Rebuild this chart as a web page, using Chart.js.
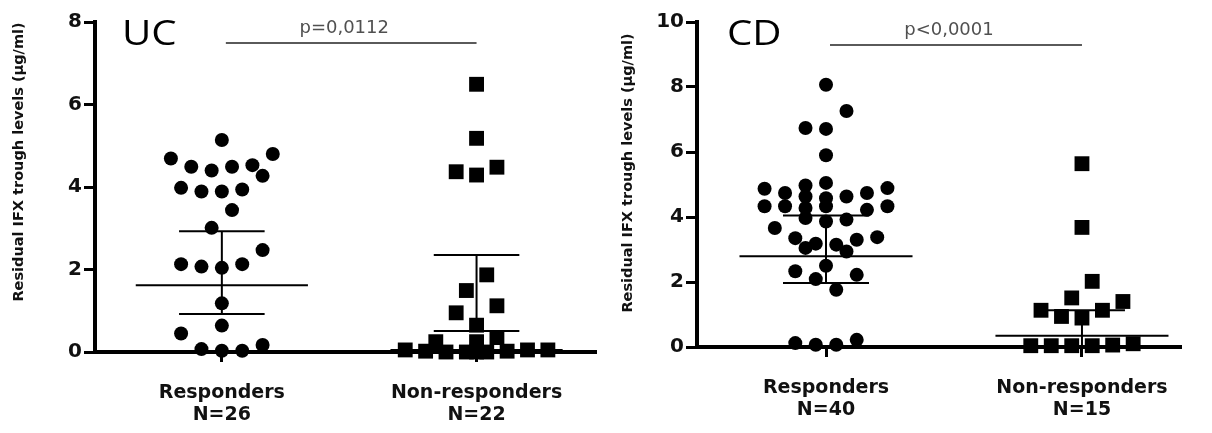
<!DOCTYPE html>
<html>
<head>
<meta charset="utf-8">
<script src="https://cdn.jsdelivr.net/npm/chart.js@4.4.1/dist/chart.umd.min.js"></script>
<style>
  html, body { margin: 0; padding: 0; background: #fff; }
  #wrap { position: relative; width: 1212px; height: 433px; }
  canvas { position: absolute; top: 0; }
  #uc { left: 0; }
  #cd { left: 606px; }
</style>
</head>
<body>
<div id="wrap">
  <canvas id="uc" width="606" height="433"></canvas>
  <canvas id="cd" width="606" height="433"></canvas>
</div>
<script>
// group names under each column
var groupNames = ['Responders', 'Non-responders'];
var ucCounts = ['N=26', 'N=22'];
var cdCounts = ['N=40', 'N=15'];
var yTitle = 'Residual IFX trough levels (\u00b5g/ml)';

// UC - residual trough levels, and the slot each dot sits in within its column
var ucResp = [5.14, 4.69, 4.80, 4.49, 4.40, 4.49, 4.53, 4.27, 3.98, 3.89, 3.89, 3.94, 3.44,
              3.01, 2.47, 2.13, 2.07, 2.04, 2.13, 1.18, 0.64, 0.45, 0.07, 0.03, 0.03, 0.17];
var ucRespSlot = [0, -5, 5, -3, -1, 1, 3, 4, -4, -2, 0, 2, 1,
                  -1, 4, -4, -2, 0, 2, 0, 0, -4, -2, 0, 2, 4];
var ucNon = [6.49, 5.18, 4.37, 4.29, 4.48, 1.87, 1.49, 1.12, 0.95, 0.65, 0.05,
             0.02, 0.25, 0.00, 0.00, 0.25, 0.00, 0.00, 0.35, 0.02, 0.05, 0.05];
var ucNonSlot = [0, 0, -2, 0, 2, 1, -1, 2, -2, 0, -7,
                 -5, -4, -3, -1, 0, 0, 1, 2, 3, 5, 7];

// CD
var cdResp = [8.07, 7.26, 6.74, 6.71, 5.90, 5.05, 4.97, 4.87, 4.89, 4.74,
              4.74, 4.63, 4.58, 4.63, 4.33, 4.33, 4.28, 4.33, 4.33, 4.22,
              3.97, 3.86, 3.92, 3.66, 3.35, 3.18, 3.05, 3.15, 2.94, 3.30,
              3.38, 2.50, 2.33, 2.09, 2.22, 1.76, 0.12, 0.07, 0.07, 0.22];
var cdRespSlot = [0, 2, -2, 0, 0, 0, -2, -6, 6, -4,
                  4, 2, 0, -2, -6, -4, -2, 0, 6, 4,
                  -2, 0, 2, -5, -3, -1, -2, 1, 2, 3,
                  5, 0, -3, -1, 3, 1, -3, -1, 1, 3];
var cdNon = [5.64, 3.68, 2.02, 1.51, 1.40, 1.13, 1.13, 0.94, 0.89, 0.04, 0.04, 0.04, 0.04, 0.06, 0.10];
var cdNonSlot = [0, 0, 1, -1, 4, -4, 2, -2, 0, -5, -3, -1, 1, 3, 5];

// centre line and error bar ends for each group [responders, non-responders]
var ucMid = [1.62, 0.05];
var ucLow = [0.92, 0.51];
var ucHigh = [2.93, 2.35];
var cdMid = [2.79, 0.35];
var cdLow = [1.97, 0.00];
var cdHigh = [4.05, 1.13];

var yTicksUC = [0, 2, 4, 6, 8];
var yTicksCD = [0, 2, 4, 6, 8, 10];

var SLOT = 0.04;      // horizontal step between dots, in x units
var MID_HALF = 0.338; // half length of the centre line
var CAP_HALF = 0.168; // half length of the error bar caps

function dots(values, slots, centre) {
  return values.map(function (v, i) { return { x: centre + slots[i] * SLOT, y: v }; });
}

function seg(x1, y1, x2, y2) {
  return {
    type: 'line',
    data: [{ x: x1, y: y1 }, { x: x2, y: y2 }],
    borderColor: '#000',
    borderWidth: 2,
    pointRadius: 0,
    clip: false,
    order: 0
  };
}

function barSets(mid, low, high) {
  var out = [];
  for (var g = 0; g < 2; g++) {
    var c = g + 1;
    out.push(seg(c - MID_HALF, mid[g], c + MID_HALF, mid[g]));
    out.push(seg(c - CAP_HALF, low[g], c + CAP_HALF, low[g]));
    out.push(seg(c - CAP_HALF, high[g], c + CAP_HALF, high[g]));
    out.push(seg(c, low[g], c, high[g]));
  }
  return out;
}

// panel tag, p value bracket and rotated y title
var panelText = {
  id: 'panelText',
  afterDraw: function (chart, args, o) {
    var ctx = chart.ctx;
    var xs = chart.scales.x, ys = chart.scales.y;
    ctx.save();

    ctx.fillStyle = '#000';
    ctx.font = '35px "Open Sans"';
    ctx.textBaseline = 'alphabetic';
    ctx.textAlign = 'left';
    ctx.save();
    ctx.translate(o.tagX, o.tagY);
    ctx.scale(1.15, 1);
    ctx.fillText(o.tag, 0, 0);
    ctx.restore();

    var x1 = xs.getPixelForValue(1), x2 = xs.getPixelForValue(2);
    var by = o.bracketY;
    ctx.strokeStyle = '#5a5a5a';
    ctx.lineWidth = 2;
    ctx.beginPath();
    ctx.moveTo(x1 + 4, by);
    ctx.lineTo(x2, by);
    ctx.stroke();
    ctx.fillStyle = '#505050';
    ctx.font = '18px "DejaVu Sans"';
    ctx.textAlign = 'center';
    ctx.fillText(o.p, (x1 + x2) / 2 - 5, by - 10);

    ctx.translate(o.titleX, o.titleY);
    ctx.rotate(-Math.PI / 2);
    ctx.fillStyle = '#111';
    ctx.font = 'bold 14.5px "DejaVu Sans"';
    ctx.textBaseline = 'middle';
    ctx.fillText(yTitle, 0, 0);
    ctx.restore();
  }
};

function makeChart(id, p) {
  var datasets = [
    {
      type: 'scatter',
      data: dots(p.resp, p.respSlot, 1),
      pointStyle: 'circle',
      pointRadius: 7,
      pointBackgroundColor: '#000',
      pointBorderWidth: 0,
      clip: false,
      order: 1
    },
    {
      type: 'scatter',
      data: dots(p.non, p.nonSlot, 2),
      pointStyle: 'rect',
      pointRadius: 10.5,
      pointBackgroundColor: '#000',
      pointBorderWidth: 0,
      clip: false,
      order: 1
    }
  ].concat(barSets(p.mid, p.low, p.high));

  return new Chart(document.getElementById(id), {
    type: 'scatter',
    data: { datasets: datasets },
    plugins: [panelText],
    options: {
      responsive: false,
      animation: false,
      devicePixelRatio: 1,
      layout: { padding: { left: 0, top: 22, right: p.padRight, bottom: 0 } },
      plugins: {
        legend: { display: false },
        tooltip: { enabled: false },
        panelText: p.text
      },
      scales: {
        x: {
          type: 'linear',
          min: p.xMin,
          max: p.xMax,
          afterBuildTicks: function (s) { s.ticks = [{ value: 1 }, { value: 2 }]; },
          afterFit: function (s) { s.height = p.xHeight; },
          ticks: {
            color: '#111',
            padding: 20,
            font: { family: 'DejaVu Sans', weight: 'bold', size: 19, lineHeight: 1.15 },
            callback: function (v) { return [groupNames[v - 1], p.counts[v - 1]]; }
          },
          grid: { drawOnChartArea: false, drawTicks: true, tickLength: 10, lineWidth: 3, color: '#000' },
          border: { display: true, width: 4, color: '#000' }
        },
        y: {
          min: 0,
          max: p.yTicks[p.yTicks.length - 1],
          afterBuildTicks: function (s) { s.ticks = p.yTicks.map(function (v) { return { value: v }; }); },
          afterFit: function (s) { s.width = p.yWidth; },
          ticks: {
            color: '#111',
            padding: 2,
            font: { family: 'DejaVu Sans', weight: 'bold', size: 20 }
          },
          grid: { drawOnChartArea: false, drawTicks: true, tickLength: 11, lineWidth: 3, color: '#000' },
          border: { display: true, width: 4, color: '#000' }
        }
      }
    }
  });
}

makeChart('uc', {
  resp: ucResp, respSlot: ucRespSlot, non: ucNon, nonSlot: ucNonSlot,
  mid: ucMid, low: ucLow, high: ucHigh, counts: ucCounts, yTicks: yTicksUC,
  xMin: 0.502, xMax: 2.467, yWidth: 95, xHeight: 81, padRight: 6,
  text: { tag: 'UC', tagX: 122, tagY: 45, p: 'p=0,0112', bracketY: 43, titleX: 19, titleY: 162 }
});

makeChart('cd', {
  resp: cdResp, respSlot: cdRespSlot, non: cdNon, nonSlot: cdNonSlot,
  mid: cdMid, low: cdLow, high: cdHigh, counts: cdCounts, yTicks: yTicksCD,
  xMin: 0.496, xMax: 2.383, yWidth: 91, xHeight: 86, padRight: 32,
  text: { tag: 'CD', tagX: 121, tagY: 45, p: 'p<0,0001', bracketY: 45, titleX: 22, titleY: 173 }
});
</script>
</body>
</html>
